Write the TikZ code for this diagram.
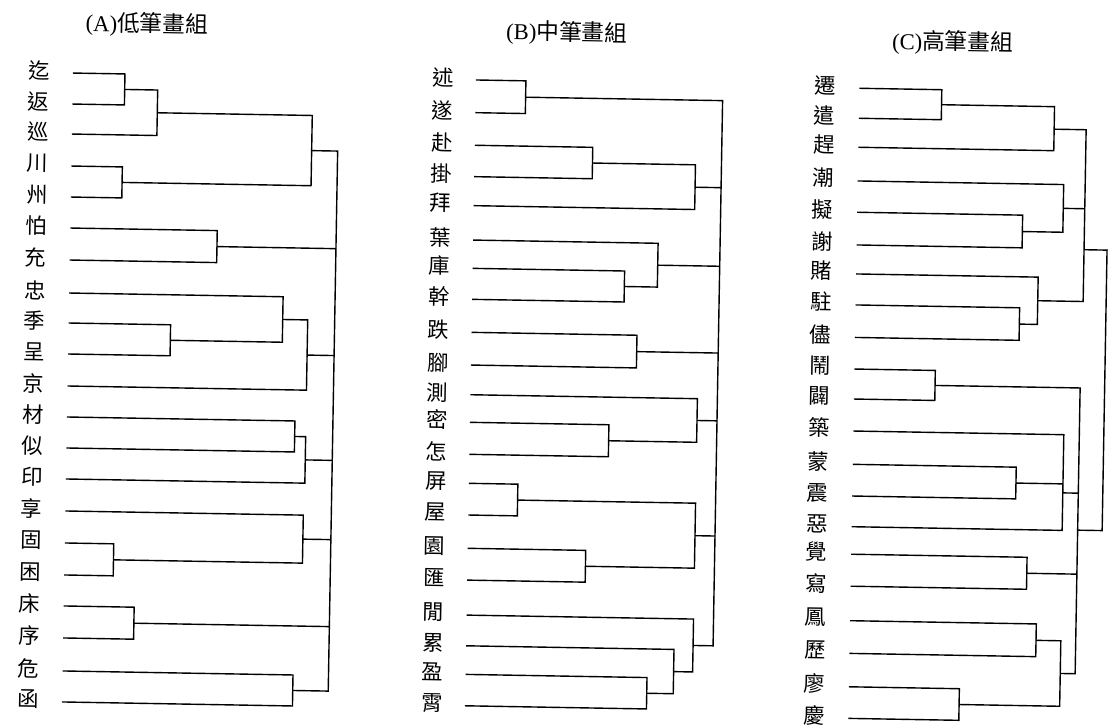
\documentclass[tikz,border=0pt]{standalone}
\usepackage{fontspec}
\setmainfont{Liberation Serif}
\newfontfamily\cjk{Noto Sans CJK TC}
\tikzset{
  lbl/.style={font=\cjk\fontsize{16}{16}\selectfont, inner sep=0pt, anchor=center},
  ttl/.style={font=\fontsize{17}{17}\selectfont, inner sep=0pt, anchor=center},
  br/.style={line width=1.05pt, draw=black},
}
\begin{document}
\begin{tikzpicture}[x=0.75pt,y=-0.75pt]
\fill[white] (0,0) rectangle (1110,725);
\useasboundingbox (0,0) rectangle (1110,725);
\begin{scope}[rotate around={-1:(555,362)}, transform shape]
% ---------- titles
\node[ttl] (tA) at (141,32) {(A)\cjk 低筆畫組};
\node[ttl] (tB) at (561,33) {(B)\cjk 中筆畫組};
\node[ttl] (tC) at (947,36) {(C)\cjk 高筆畫組};
% ---------- panel A leaves
\foreach \n/\y/\t in {1/81.5/迄,2/112.5/返,3/142.5/巡,4/174.5/川,5/205.5/州,6/236.5/怕,7/268.5/充,8/301.5/忠,9/331.5/季,10/362.5/呈,11/394.5/京,12/425.5/材,13/456.5/似,14/487.5/印,15/519.5/享,16/551.5/固,17/583.5/困,18/614.5/床,19/646.5/序,20/679.5/危,21/710.5/函}{
  \node[lbl] (a\n) at (34,\y-2) {\t};
  \coordinate (as\n) at (68,\y);
}
% ---------- panel B leaves
\foreach \n/\y/\t in {1/81.4/述,2/114.1/遂,3/146.7/赴,4/178.1/掛,5/207.1/拜,6/241.5/葉,7/269.8/庫,8/300.8/幹,9/333.8/跌,10/366.5/腳,11/396.2/測,12/423.8/密,13/455.8/怎,14/484.8/屏,15/516.5/屋,16/549.8/園,17/581.6/匯,18/616.6/閒,19/647.3/累,20/675.9/盈,21/707.3/霄}{
  \node[lbl] (b\n) at (438,\y-2) {\t};
  \coordinate (bs\n) at (471,\y);
}
% ---------- panel C leaves
\foreach \n/\y/\t in {1/83/遷,2/113/遣,3/142/趕,4/175.7/潮,5/207/擬,6/239.7/謝,7/268.7/賭,8/299.7/駐,9/332.2/儘,10/363.8/鬧,11/393.8/闢,12/425.8/築,13/459.1/蒙,14/490.8/震,15/521.5/惡,16/549/覺,17/581/寫,18/615.5/鳳,19/648.2/歷,20/681.6/廖,21/713.2/慶}{
  \node[lbl] (c\n) at (820,\y-2.5) {\t};
  \coordinate (cs\n) at (854.5,\y);
}
% ---------- panel A merges
\coordinate (mA1) at (120,97);
\coordinate (mA2) at (153,119.75);
\coordinate (mA3) at (119,190);
\coordinate (mA4) at (308,154.9);
\coordinate (mA5) at (215,252.5);
\coordinate (mA6) at (170,347);
\coordinate (mA7) at (282,324.25);
\coordinate (mA8) at (307,359.4);
\coordinate (mA9) at (296,441);
\coordinate (mA10) at (307,464.25);
\coordinate (mA11) at (117,567.5);
\coordinate (mA12) at (306,543.5);
\coordinate (mA13) at (138.5,630.5);
\coordinate (mA14) at (298.5,695);
\coordinate (rA) at (334,425);
\draw[br] (as1) -| (mA1) |- (as2);
\draw[br] (mA1) -| (mA2) |- (as3);
\draw[br] (as4) -| (mA3) |- (as5);
\draw[br] (mA2) -| (mA4) |- (mA3);
\draw[br] (as6) -| (mA5) |- (as7);
\draw[br] (as9) -| (mA6) |- (as10);
\draw[br] (as8) -| (mA7) |- (mA6);
\draw[br] (mA7) -| (mA8) |- (as11);
\draw[br] (as12) -| (mA9) |- (as13);
\draw[br] (mA9) -| (mA10) |- (as14);
\draw[br] (as16) -| (mA11) |- (as17);
\draw[br] (as15) -| (mA12) |- (mA11);
\draw[br] (as18) -| (mA13) |- (as19);
\draw[br] (as20) -| (mA14) |- (as21);
\draw[br] (mA4) -| (rA) |- (mA14);
\foreach \c in {mA5,mA8,mA10,mA12,mA13} \draw[br] (\c) -- (\c -| rA);
% ---------- panel B merges
\coordinate (mB1) at (521,97.75);
\coordinate (mB2) at (589,162.4);
\coordinate (mB3) at (692,184.8);
\coordinate (mB4) at (623,285.3);
\coordinate (mB5) at (656,263.4);
\coordinate (mB6) at (636.5,350.2);
\coordinate (mB7) at (610,439.8);
\coordinate (mB8) at (698,418);
\coordinate (mB9) at (520,500.7);
\coordinate (mB10) at (589,565.7);
\coordinate (mB11) at (698,533.2);
\coordinate (mB12) at (652.5,691.6);
\coordinate (mB13) at (679,669.5);
\coordinate (mB14) at (698,643);
\coordinate (rB) at (718,370);
\draw[br] (bs1) -| (mB1) |- (bs2);
\draw[br] (bs3) -| (mB2) |- (bs4);
\draw[br] (mB2) -| (mB3) |- (bs5);
\draw[br] (bs7) -| (mB4) |- (bs8);
\draw[br] (bs6) -| (mB5) |- (mB4);
\draw[br] (bs9) -| (mB6) |- (bs10);
\draw[br] (bs12) -| (mB7) |- (bs13);
\draw[br] (bs11) -| (mB8) |- (mB7);
\draw[br] (bs14) -| (mB9) |- (bs15);
\draw[br] (bs16) -| (mB10) |- (bs17);
\draw[br] (mB9) -| (mB11) |- (mB10);
\draw[br] (bs20) -| (mB12) |- (bs21);
\draw[br] (bs19) -| (mB13) |- (mB12);
\draw[br] (bs18) -| (mB14) |- (mB13);
\draw[br] (mB1) -| (rB) |- (mB14);
\foreach \c in {mB3,mB5,mB6,mB8,mB11} \draw[br] (\c) -- (\c -| rB);
% ---------- panel C merges
\coordinate (mC1) at (937,98);
\coordinate (mC2) at (1050,120.5);
\coordinate (mC3) at (1020,223.4);
\coordinate (mC4) at (1060.5,199.5);
\coordinate (mC5) at (1018.6,316);
\coordinate (mC6) at (1036.6,292.3);
\coordinate (tCm) at (1082,240.5);
\coordinate (mC7) at (935.4,378.8);
\coordinate (mC8) at (1018,475);
\coordinate (mC9) at (1065,484);
\coordinate (mC10) at (1030.4,565);
\coordinate (mC11) at (1040.8,631.9);
\coordinate (mC12) at (965,697.4);
\coordinate (mC13) at (1065.6,664.6);
\coordinate (bCm) at (1080.5,521);
\coordinate (rC) at (1105,380);
\draw[br] (cs1) -| (mC1) |- (cs2);
\draw[br] (mC1) -| (mC2) |- (cs3);
\draw[br] (cs5) -| (mC3) |- (cs6);
\draw[br] (cs4) -| (mC4) |- (mC3);
\draw[br] (cs8) -| (mC5) |- (cs9);
\draw[br] (cs7) -| (mC6) |- (mC5);
\draw[br] (mC2) -| (tCm) |- (mC6);
\draw[br] (mC4) -- (mC4 -| tCm);
\draw[br] (cs10) -| (mC7) |- (cs11);
\draw[br] (cs13) -| (mC8) |- (cs14);
\draw[br] (cs12) -| (mC9) |- (cs15);
\draw[br] (mC8) -- (mC8 -| mC9);
\draw[br] (cs16) -| (mC10) |- (cs17);
\draw[br] (cs18) -| (mC11) |- (cs19);
\draw[br] (cs20) -| (mC12) |- (cs21);
\draw[br] (mC11) -| (mC13) |- (mC12);
\draw[br] (mC7) -| (bCm) |- (mC13);
\draw[br] (mC9) -- (mC9 -| bCm);
\draw[br] (mC10) -- (mC10 -| bCm);
\draw[br] (tCm) -| (rC) |- (bCm);
\end{scope}
\end{tikzpicture}
\end{document}
